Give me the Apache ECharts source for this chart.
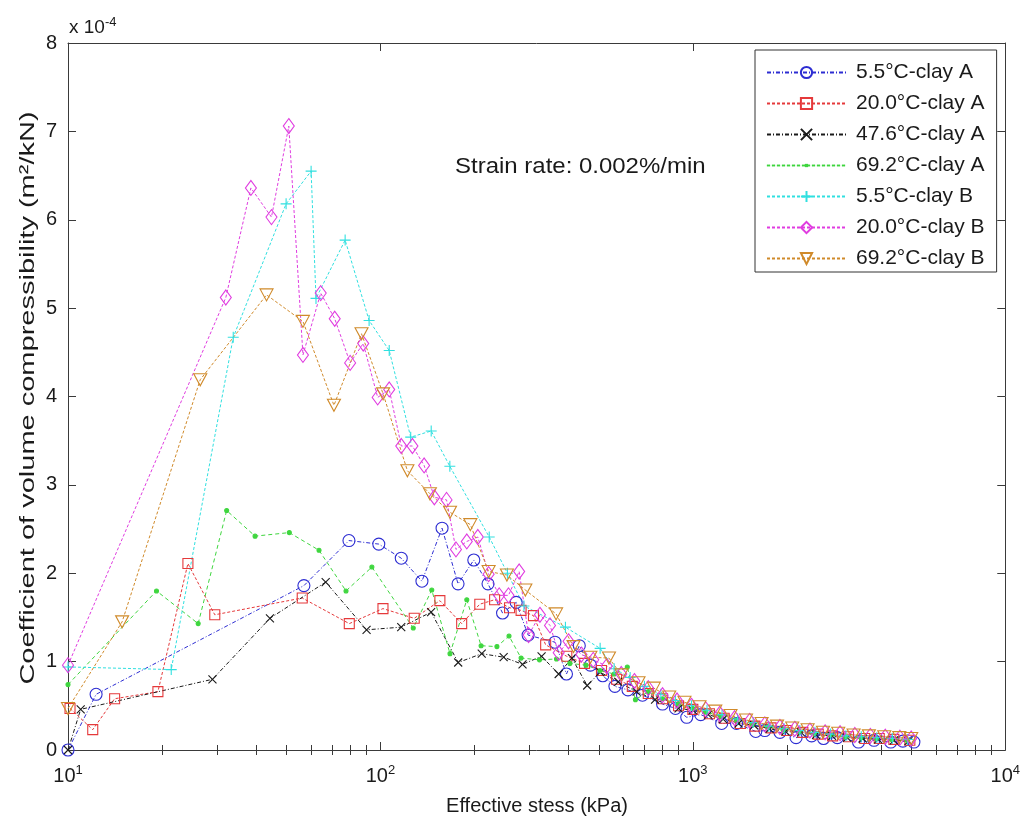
<!DOCTYPE html>
<html><head><meta charset="utf-8">
<script src="https://cdn.jsdelivr.net/npm/echarts@6/dist/echarts.min.js"></script>
<style>html,body{margin:0;padding:0;background:#fff}#c{width:1023px;height:821px}</style>
</head><body><div id="c"></div>
<script>
// ---- tick labels ----
const xMajorTicks = [10, 100, 1000, 10000];
const xMinorTicks = [20,30,40,50,60,70,80,90,200,300,400,500,600,700,800,900,2000,3000,4000,5000,6000,7000,8000,9000];
const yTicks = [0,1,2,3,4,5,6,7,8];

// ---- series names ----
const seriesNames = ['5.5°C-clay A','20.0°C-clay A','47.6°C-clay A','69.2°C-clay A','5.5°C-clay B','20.0°C-clay B','69.2°C-clay B'];

// ---- data (x: effective stress kPa, y: mv in 1e-4 m2/kN) ----
const a55x = [10,12.3,56.9,79.3,98.8,116.6,135.8,157.5,177.2,199,221,246,272,297,362,394,433,470,515,563,620,690,800,880,956,1060,1237,1380,1590,1700,1900,2140,2400,2620,2900,3390,3800,4300,4700,5100];
const a55y = [0,0.63,1.86,2.37,2.33,2.17,1.91,2.51,1.88,2.15,1.88,1.55,1.67,1.30,1.22,0.86,1.18,0.96,0.84,0.72,0.68,0.62,0.52,0.47,0.37,0.40,0.30,0.30,0.21,0.22,0.20,0.14,0.16,0.13,0.14,0.09,0.11,0.09,0.10,0.09];

const a20x = [10.15,12.0,14.1,19.4,24.2,29.5,56.2,79.5,101.9,128.3,155,182,208,232,259,282,309,338,395,450,510,570,640,720,800,900,1000,1130,1260,1420,1580,1780,2000,2250,2520,2800,3150,3550,3950,4400,4950];
const a20y = [0.47,0.23,0.58,0.66,2.11,1.53,1.72,1.43,1.60,1.49,1.69,1.43,1.65,1.70,1.61,1.58,1.52,1.19,1.06,0.98,0.90,0.80,0.72,0.64,0.58,0.50,0.46,0.41,0.36,0.30,0.27,0.25,0.22,0.20,0.18,0.16,0.15,0.13,0.13,0.12,0.11];

const a476x = [10,10.98,29.0,44.3,66.8,90.3,116.6,145.3,177.4,211,248,285,328,372,410,459,505,577,661,757,900,1000,1120,1250,1400,1570,1760,1980,2220,2480,2790,3120,3500,3920,4400,4900];
const a476y = [0,0.46,0.80,1.49,1.90,1.36,1.39,1.56,0.99,1.09,1.05,0.97,1.06,0.86,1.04,0.73,0.88,0.77,0.66,0.57,0.47,0.45,0.40,0.35,0.30,0.28,0.24,0.21,0.20,0.17,0.16,0.14,0.13,0.12,0.11,0.10];

const a692x = [10,19.2,26.1,32.2,39.7,51.1,63.6,77.6,93.9,127.4,146,167,189,210,236,258,282,323,366,404,455,505,560,617,655,720,800,900,1000,1100,1230,1380,1550,1740,1950,2190,2450,2750,3080,3450,3870,4330,4850];
const a692y = [0.74,1.80,1.43,2.71,2.42,2.46,2.26,1.80,2.07,1.38,1.81,1.09,1.70,1.18,1.17,1.29,1.04,1.02,1.03,0.98,0.96,0.90,0.86,0.94,0.57,0.66,0.58,0.52,0.47,0.43,0.38,0.34,0.29,0.26,0.23,0.21,0.19,0.17,0.15,0.14,0.13,0.12,0.11];

const b55x = [10,21.4,33.8,49.9,60,62.2,77.1,92,106.7,125,145.4,166.8,223,255,288,391,505,560,630,700,790,880,990,1110,1240,1390,1560,1750,1960,2200,2460,2760,3090,3460,3880,4350,4870];
const b55y = [0.94,0.91,4.67,6.18,6.55,5.11,5.77,4.86,4.52,3.54,3.61,3.21,2.41,2.00,1.63,1.39,1.15,0.92,0.82,0.72,0.63,0.56,0.50,0.45,0.40,0.35,0.31,0.27,0.24,0.22,0.20,0.18,0.16,0.15,0.14,0.13,0.12];

const b20x = [10,32.0,38.5,44.8,50.9,56.5,64.4,71.4,80,88.1,98,106.7,116.6,126.6,138,148.8,162.8,174.5,189,205,222,240,257,278,298,324,349,372,400,440,480,530,590,650,720,800,890,990,1100,1220,1360,1520,1700,1900,2120,2370,2650,2960,3300,3700,4130,4600,5000];
const b20y = [0.96,5.12,6.36,6.03,7.06,4.47,5.17,4.88,4.38,4.60,3.99,4.08,3.44,3.44,3.22,2.86,2.83,2.27,2.36,2.41,1.99,1.75,1.75,2.02,1.30,1.53,1.41,1.10,1.23,1.08,1.02,0.95,0.86,0.78,0.70,0.62,0.56,0.50,0.46,0.41,0.36,0.33,0.29,0.26,0.24,0.22,0.20,0.19,0.17,0.16,0.15,0.14,0.13];

const b692x = [10,14.9,26.5,43.2,56.5,71,87,102,122,144,167,194,222,254,291,365,415,470,539,591,670,750,840,940,1050,1180,1320,1480,1660,1860,2080,2330,2610,2920,3270,3660,4100,4580,5000];
const b692y = [0.47,1.45,4.19,5.15,4.85,3.90,4.71,4.03,3.16,2.90,2.69,2.55,2.02,1.98,1.81,1.54,1.17,1.05,1.04,0.85,0.76,0.70,0.60,0.54,0.49,0.44,0.39,0.34,0.30,0.27,0.25,0.23,0.20,0.19,0.17,0.16,0.15,0.14,0.13];

const FONT = '"Liberation Sans", Arial, Helvetica, sans-serif';
const TXT = '#1a1a1a';
const AX = '#3a3a3a';

const styles = [
  {c:'#2d2dd2', sym:'circle', size:12, fill:false, dash:[4,2,1,2]},
  {c:'#e5393b', sym:'rect', size:10, fill:false, dash:[3,2]},
  {c:'#1a1a1a', sym:'path://M0,0L10,10M10,0L0,10', size:8, fill:false, dash:[4,2,1,2]},
  {c:'#3fd63f', sym:'circle', size:4, fill:true, dash:[4,3]},
  {c:'#30e0e0', sym:'path://M5,0L5,10M0,5L10,5', size:11, fill:false, dash:[3,2]},
  {c:'#e03ce0', sym:'diamond', size:[11,15], fill:false, dash:[3,2]},
  {c:'#d08a2a', sym:'path://M0,0L12,0L6,11Z', size:[13,12], fill:false, dash:[3,2]}
];
const xs = [a55x,a20x,a476x,a692x,b55x,b20x,b692x];
const ys = [a55y,a20y,a476y,a692y,b55y,b20y,b692y];

const series = seriesNames.map((n,i)=>{
  const s = styles[i];
  return {
    name:n, type:'line', xAxisIndex:0, yAxisIndex:0,
    data: xs[i].map((v,k)=>[v, ys[i][k]]),
    symbol:s.sym, symbolSize:s.size, showAllSymbol:true, smooth:false,
    lineStyle:{color:s.c, width:1, type:s.dash},
    itemStyle:{color: s.fill ? s.c : 'rgba(255,255,255,0)', borderColor:s.c, borderWidth:1.1},
    emphasis:{disabled:true}, animation:false, z: 2
  };
});

// legend icon for the dotted green series: dashed line + small dot (bounding box 79x14)
let dotIcon = 'path://M0,0h0.01v0.01h-0.01z M78.99,13.99h0.01v0.01h-0.01z';
for (let x0 = 0; x0 < 79; x0 += 5) {
  const w = Math.min(3, 79 - x0);
  dotIcon += ' M' + x0 + ',6.2h' + w + 'v1.6h-' + w + 'z';
}
dotIcon += ' M38,5.5h3v3h-3z';

const legendData = seriesNames.map((n,i)=> i === 3 ? {name:n, icon:dotIcon, itemStyle:{color:styles[3].c, borderColor:styles[3].c, borderWidth:0.3, opacity:1}} : {name:n});

function supLabel(v){
  const e = Math.round(Math.log10(v));
  return '{b|10}{s|' + e + '}';
}
const axLine = {show:true, onZero:false, lineStyle:{color:AX, width:1}};
const tickStyle = {color:AX, width:1};

const chart = echarts.init(document.getElementById('c'), null, {renderer:'canvas'});
chart.setOption({
  backgroundColor:'#ffffff',
  animation:false,
  grid:{left:68, right:17, top:43, bottom:71, containLabel:false},
  xAxis:[
    {type:'log', logBase:10, min:10, max:10000, position:'bottom',
     axisLine:axLine, splitLine:{show:false},
     axisTick:{show:true, inside:true, length:8, lineStyle:tickStyle, customValues:xMajorTicks},
     axisLabel:{show:true, margin:14, customValues:xMajorTicks, formatter:supLabel,
       rich:{b:{fontSize:20, fontFamily:FONT, color:TXT}, s:{fontSize:13, fontFamily:FONT, color:TXT, padding:[0,0,12,0]}}}},
    {type:'log', logBase:10, min:10, max:10000, position:'bottom',
     axisLine:{show:false}, splitLine:{show:false}, axisLabel:{show:false},
     axisTick:{show:true, inside:true, length:5, lineStyle:tickStyle, customValues:xMinorTicks}},
    {type:'log', logBase:10, min:10, max:10000, position:'top',
     axisLine:axLine, splitLine:{show:false}, axisLabel:{show:false},
     axisTick:{show:true, inside:true, length:8, lineStyle:tickStyle, customValues:xMajorTicks}},
    {type:'log', logBase:10, min:10, max:10000, position:'top',
     axisLine:{show:false}, splitLine:{show:false}, axisLabel:{show:false},
     axisTick:{show:true, inside:true, length:5, lineStyle:tickStyle, customValues:xMinorTicks}}
  ],
  yAxis:[
    {type:'value', min:0, max:8, interval:1, position:'left',
     axisLine:axLine, splitLine:{show:false},
     axisTick:{show:true, inside:true, length:8, lineStyle:tickStyle},
     axisLabel:{show:true, margin:11, fontSize:20, fontFamily:FONT, color:TXT}},
    {type:'value', min:0, max:8, interval:1, position:'right',
     axisLine:axLine, splitLine:{show:false}, axisLabel:{show:false},
     axisTick:{show:true, inside:true, length:8, lineStyle:tickStyle}}
  ],
  legend:{
    data:legendData, orient:'vertical', left:755, top:50,
    itemWidth:79, itemHeight:14, itemGap:10,
    padding:[12,12,3,11],
    backgroundColor:'#ffffff', borderColor:'#333', borderWidth:1, borderRadius:0,
    textStyle:{fontSize:21, fontFamily:FONT, color:TXT, padding:[0,0,0,5]},
    selectedMode:false
  },
  graphic:[
    {type:'text', x:69, y:28, style:{text:'{a|x 10}{b|-4}', rich:{a:{fontSize:19, fontFamily:FONT, fill:TXT}, b:{fontSize:13, fontFamily:FONT, fill:TXT, padding:[0,0,12,0]}}, verticalAlign:'middle', textVerticalAlign:'middle'}},
    {type:'text', x:455, y:167, style:{text:'Strain rate: 0.002%/min', fontSize:22, fontFamily:FONT, fill:TXT, textVerticalAlign:'middle', verticalAlign:'middle'}, scaleX:1.09, scaleY:1},
    {type:'text', x:537, y:806, style:{text:'Effective stess (kPa)', fontSize:20, fontFamily:FONT, fill:TXT, align:'center', textAlign:'center', verticalAlign:'middle', textVerticalAlign:'middle'}},
    {type:'text', x:28, y:398, rotation:Math.PI/2, scaleX:1.45, scaleY:1, style:{text:'Coefficient of volume compressibility (m²/kN)', fontSize:20, fontFamily:FONT, fill:TXT, align:'center', textAlign:'center', verticalAlign:'middle', textVerticalAlign:'middle'}}
  ],
  series:series
});
</script>
</body></html>
